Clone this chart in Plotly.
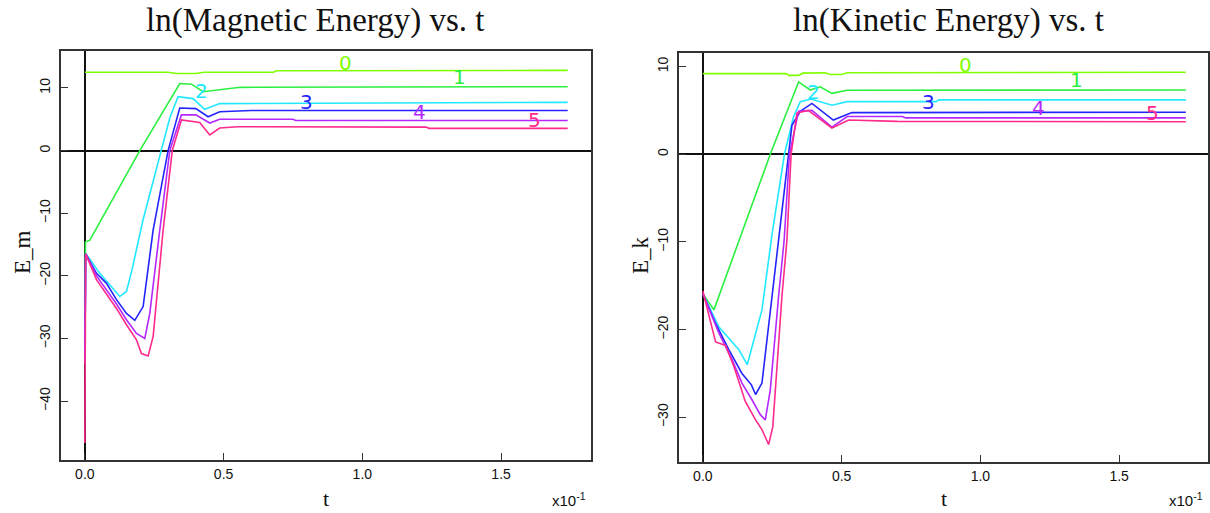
import plotly.graph_objects as go

# ---------------- data: ln(Magnetic Energy) ----------------
em_t0 = [0, 0.30, 0.33, 0.40, 0.43, 0.68, 0.69, 1.74]
em_y0 = [12.5, 12.5, 12.3, 12.3, 12.5, 12.5, 12.75, 12.8]
em_t1 = [0, 0.002, 0.018, 0.198, 0.342, 0.384, 0.426, 0.47, 0.56, 1.74]
em_y1 = [-33.0, -14.6, -14.3, 0.0, 10.7, 10.6, 9.4, 9.65, 10.1, 10.2]
em_t2 = [0, 0.003, 0.054, 0.126, 0.15, 0.17, 0.21, 0.276, 0.306, 0.336, 0.39, 0.432, 0.486, 1.74]
em_y2 = [-33.5, -16.4, -19.6, -23.3, -22.5, -19.0, -11.0, 0.0, 5.2, 8.6, 8.3, 6.6, 7.5, 7.7]
em_t3 = [0, 0.003, 0.042, 0.078, 0.114, 0.15, 0.18, 0.21, 0.246, 0.3, 0.342, 0.40, 0.444, 0.486, 0.6, 1.74]
em_y3 = [-34.0, -16.5, -19.6, -21.2, -23.8, -26.0, -27.1, -24.9, -12.7, 0.0, 6.8, 6.7, 5.4, 6.2, 6.4, 6.4]
em_t4 = [0, 0.003, 0.042, 0.078, 0.114, 0.15, 0.186, 0.216, 0.234, 0.27, 0.306, 0.348, 0.40, 0.45, 0.486, 0.75, 0.76, 1.74]
em_y4 = [-34.0, -16.5, -20.0, -22.2, -24.5, -27.0, -29.2, -30.0, -26.0, -12.7, 0.0, 5.7, 5.7, 4.4, 5.0, 5.0, 4.8, 4.8]
em_t5 = [0, 0.003, 0.042, 0.078, 0.114, 0.15, 0.186, 0.204, 0.228, 0.246, 0.282, 0.315, 0.348, 0.414, 0.45, 0.486, 0.55, 1.23, 1.24, 1.74]
em_y5 = [-46.7, -16.5, -20.6, -22.8, -25.2, -27.8, -30.2, -32.4, -32.8, -29.7, -12.7, 0.0, 4.9, 4.5, 2.5, 3.6, 3.8, 3.75, 3.55, 3.55]

# ---------------- data: ln(Kinetic Energy) ----------------
ek_t0 = [0, 0.30, 0.31, 0.345, 0.36, 0.44, 0.46, 0.50, 0.52, 1.74]
ek_y0 = [9.2, 9.2, 9.0, 9.0, 9.25, 9.3, 9.1, 9.1, 9.3, 9.35]
ek_t1 = [0, 0.04, 0.243, 0.345, 0.387, 0.423, 0.465, 0.52, 1.74]
ek_y1 = [-15.9, -17.75, 0.0, 8.25, 7.33, 7.7, 6.95, 7.3, 7.33]
ek_t2 = [0, 0.058, 0.13, 0.16, 0.213, 0.249, 0.294, 0.327, 0.351, 0.39, 0.465, 0.52, 0.84, 0.85, 1.74]
ek_y2 = [-15.9, -19.7, -22.3, -24.0, -17.75, -9.2, 0.0, 4.3, 6.0, 6.3, 5.6, 6.0, 6.0, 6.2, 6.2]
ek_t3 = [0, 0.046, 0.094, 0.141, 0.175, 0.19, 0.213, 0.249, 0.273, 0.307, 0.321, 0.351, 0.393, 0.47, 0.537, 1.74]
ek_y3 = [-15.9, -19.3, -22.3, -25.0, -26.3, -27.4, -26.1, -16.2, -9.8, 0.0, 3.3, 4.9, 5.8, 3.9, 4.75, 4.8]
ek_t4 = [0, 0.058, 0.105, 0.141, 0.177, 0.207, 0.225, 0.243, 0.273, 0.293, 0.312, 0.345, 0.393, 0.465, 0.52, 0.72, 0.73, 1.74]
ek_y4 = [-15.9, -20.4, -23.4, -26.1, -28.0, -29.7, -30.3, -26.9, -16.2, -9.8, 0.0, 4.9, 5.0, 3.1, 4.3, 4.3, 4.15, 4.15]
ek_t5 = [0, 0.046, 0.082, 0.112, 0.153, 0.19, 0.213, 0.237, 0.252, 0.285, 0.303, 0.318, 0.339, 0.38, 0.465, 0.525, 0.7, 1.74]
ek_y5 = [-15.6, -21.4, -21.8, -24.2, -28.2, -30.3, -31.4, -33.1, -31.1, -16.2, -9.8, 0.0, 4.7, 5.0, 3.0, 3.9, 3.75, 3.7]

series_names = ["0", "1", "2", "3", "4", "5"]
colors = ["#80ff00", "#2cf040", "#22e8ff", "#2424ff", "#b428ff", "#ff2a8c"]

# label positions (t, value)
em_lab_t = [0.941, 1.349, 0.42, 0.80, 1.205, 1.62]
em_lab_y = [14.0, 11.8, 9.5, 7.7, 6.2, 4.9]
ek_lab_t = [0.945, 1.347, 0.40, 0.813, 1.21, 1.62]
ek_lab_y = [10.2, 8.47, 7.1, 6.0, 5.24, 4.67]

x_ticks = [0, 0.5, 1.0, 1.5]
x_tick_text = ["0.0", "0.5", "1.0", "1.5"]
em_y_ticks = [-40, -30, -20, -10, 0, 10]
ek_y_ticks = [-30, -20, -10, 0, 10]

em_t = [em_t0, em_t1, em_t2, em_t3, em_t4, em_t5]
em_y = [em_y0, em_y1, em_y2, em_y3, em_y4, em_y5]
ek_t = [ek_t0, ek_t1, ek_t2, ek_t3, ek_t4, ek_t5]
ek_y = [ek_y0, ek_y1, ek_y2, ek_y3, ek_y4, ek_y5]

W, H = 1210, 513
fig = go.Figure()
for i in range(6):
    fig.add_trace(go.Scatter(x=em_t[i], y=em_y[i], mode="lines", name=series_names[i],
                             line=dict(color=colors[i], width=1.6), xaxis="x", yaxis="y",
                             showlegend=False))
for i in range(6):
    fig.add_trace(go.Scatter(x=ek_t[i], y=ek_y[i], mode="lines", name=series_names[i],
                             line=dict(color=colors[i], width=1.6), xaxis="x2", yaxis="y2",
                             showlegend=False))

axis_common = dict(showgrid=False, showline=True, linecolor="#333", linewidth=1.5, mirror=True,
                   ticks="inside", ticklen=7, tickcolor="#333", tickwidth=1.2,
                   zeroline=True, zerolinecolor="#111", zerolinewidth=1.5,
                   tickfont=dict(family="Liberation Sans", size=14, color="#111"))

fig.update_layout(
    width=W, height=H, margin=dict(l=0, r=0, t=0, b=0),
    paper_bgcolor="white", plot_bgcolor="white",
    xaxis=dict(domain=[61 / W, 592 / W], range=[-0.0863, 1.824], tickvals=x_ticks,
               ticktext=x_tick_text, anchor="y", **axis_common),
    yaxis=dict(domain=[(H - 460) / H, (H - 51) / H], range=[-49.4, 15.9], tickvals=em_y_ticks,
               tickangle=-90, anchor="x", ticklabelstandoff=4, **axis_common),
    xaxis2=dict(domain=[680 / W, 1.0], range=[-0.0863, 1.82], tickvals=x_ticks,
                ticktext=x_tick_text, anchor="y2", **axis_common),
    yaxis2=dict(domain=[(H - 462) / H, (H - 53) / H], range=[-35.1, 11.55], tickvals=ek_y_ticks,
                tickangle=-90, anchor="x2", ticklabelstandoff=4, **axis_common),
)

ann = []
serif = "Liberation Serif"
ann.append(dict(text="ln(Magnetic Energy) vs. t", x=316 / W, y=1 - 20 / H, xref="paper", yref="paper",
                showarrow=False, font=dict(family=serif, size=33, color="#111"), xanchor="center", yanchor="middle"))
ann.append(dict(text="ln(Kinetic Energy) vs. t", x=950 / W, y=1 - 20 / H, xref="paper", yref="paper",
                showarrow=False, font=dict(family=serif, size=33, color="#111"), xanchor="center", yanchor="middle"))
for xc in (327, 946):
    ann.append(dict(text="t", x=xc / W, y=1 - 498 / H, xref="paper", yref="paper", showarrow=False,
                    font=dict(family=serif, size=22, color="#111"), xanchor="center", yanchor="middle"))
for xc, txt in ((570, "x10<sup>-1</sup>"), (1188, "x10<sup>-1</sup>")):
    ann.append(dict(text=txt, x=xc / W, y=1 - 499 / H, xref="paper", yref="paper", showarrow=False,
                    font=dict(family="Liberation Sans", size=15, color="#111"), xanchor="center", yanchor="middle"))
ann.append(dict(text="E_m", x=22 / W, y=1 - 252 / H, xref="paper", yref="paper", showarrow=False, textangle=-90,
                font=dict(family=serif, size=23, color="#111"), xanchor="center", yanchor="middle"))
ann.append(dict(text="E_k", x=642 / W, y=1 - 255 / H, xref="paper", yref="paper", showarrow=False, textangle=-90,
                font=dict(family=serif, size=23, color="#111"), xanchor="center", yanchor="middle"))
for i in range(6):
    ann.append(dict(text=series_names[i], x=em_lab_t[i], y=em_lab_y[i], xref="x", yref="y", showarrow=False,
                    font=dict(family="DejaVu Sans", size=20, color=colors[i])))
    ann.append(dict(text=series_names[i], x=ek_lab_t[i], y=ek_lab_y[i], xref="x2", yref="y2", showarrow=False,
                    font=dict(family="DejaVu Sans", size=20, color=colors[i])))
fig.update_layout(annotations=ann)

fig.write_html("out.html", config={"displayModeBar": False},
               post_script="document.body.style.margin='0px';document.body.style.overflow='hidden';")
